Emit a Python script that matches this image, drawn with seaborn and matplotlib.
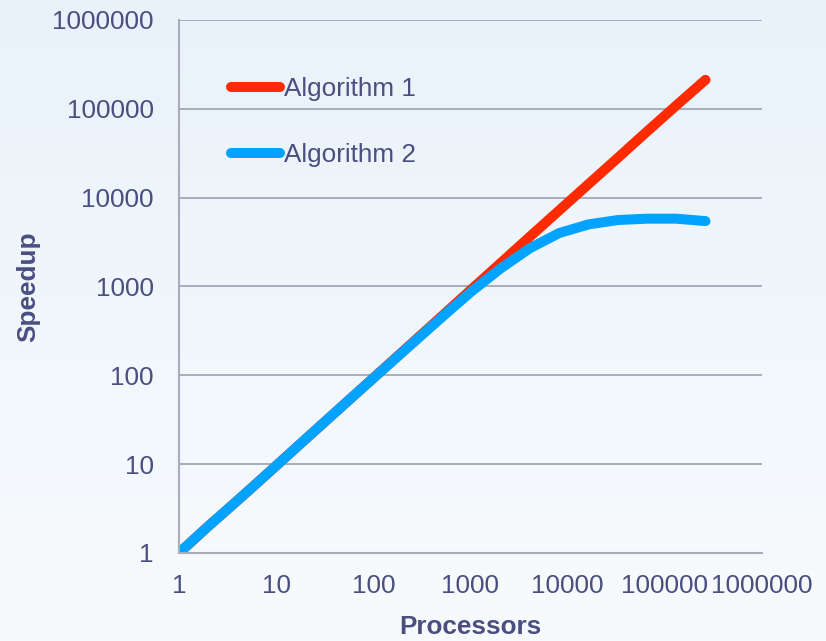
import numpy as np
import pandas as pd
import matplotlib
matplotlib.use("Agg")
import matplotlib.pyplot as plt
import seaborn as sns

# processors (powers of two) and speedups
processors = [1, 2, 4, 8, 16, 32, 64, 128, 256, 512, 1024, 2048, 4096,
              8192, 16384, 32768, 65536, 131072, 262144]
algo1 = [1, 2, 3.9, 7.7, 15.3, 30.3, 60, 119, 236, 468, 930, 1840, 3650,
         7200, 14200, 28000, 55500, 109000, 212000]
algo2 = [1, 2, 3.9, 7.7, 15.3, 30.3, 60, 118, 232, 455, 880, 1600, 2700,
         4000, 5000, 5600, 5800, 5800, 5450]
labels = ["Algorithm 1", "Algorithm 2"]
ticks = [1, 10, 100, 1000, 10000, 100000, 1000000]

df = pd.DataFrame({
    "Processors": processors * 2,
    "Speedup": algo1 + algo2,
    "series": [labels[0]] * len(processors) + [labels[1]] * len(processors),
})

sns.set_style("white")
plt.rcParams["font.family"] = ["Liberation Sans", "DejaVu Sans"]
txt = "#4a4f80"
grey = "#a9acbc"
fs = 18.8

fig = plt.figure(figsize=(8.26, 6.41), dpi=100)

# light blue background gradient
bg = fig.add_axes([0, 0, 1, 1], zorder=-1)
top = np.array([233, 242, 250]) / 255
bot = np.array([248, 251, 253]) / 255
grad = np.linspace(0, 1, 256)[:, None, None]
img = top * (1 - grad) + bot * grad
bg.imshow(np.repeat(img, 2, axis=1), aspect="auto", extent=[0, 1, 0, 1])
bg.axis("off")
fig.patch.set_facecolor(bot)

ax = fig.add_axes([0.2167, 0.1373, 0.7058, 0.8315])
ax.set_facecolor("none")

sns.lineplot(
    data=df, x="Processors", y="Speedup", hue="series",
    palette=["#ff2a00", "#00a3ff"], linewidth=7.2, ax=ax,
    solid_capstyle="round", legend=False,
)

ax.set_xscale("log")
ax.set_yscale("log")
ax.set_xlim(1, 1000000)
ax.set_ylim(1, 1000000)
ax.set_xticks(ticks)
ax.set_yticks(ticks)
ax.set_xticklabels([str(t) for t in ticks])
ax.set_yticklabels([str(t) for t in ticks])
ax.minorticks_off()
ax.tick_params(axis="both", length=0, labelsize=fs, colors=txt)
ax.tick_params(axis="y", pad=18)
ax.tick_params(axis="x", pad=15)

ax.grid(axis="y", color=grey, linewidth=1.4)
ax.set_axisbelow(True)
for s in ["top", "right"]:
    ax.spines[s].set_visible(False)
for s in ["left", "bottom"]:
    ax.spines[s].set_color(grey)
    ax.spines[s].set_linewidth(1.5)

ax.set_xlabel("Processors", fontsize=fs, fontweight="bold", color=txt)
ax.set_ylabel("Speedup", fontsize=fs, fontweight="bold", color=txt)
ax.xaxis.set_label_coords(0.5, -0.139)
ax.xaxis.label.set_va("center")
ax.yaxis.set_label_coords(-0.259, 0.5)
ax.yaxis.label.set_va("center")

ax.legend(ax.lines[:2], labels, loc="upper left", bbox_to_anchor=(0.089, 0.893),
          frameon=False, fontsize=fs, handlelength=1.9, handletextpad=0.12,
          labelspacing=1.62, borderpad=0, borderaxespad=0, labelcolor=txt)

fig.savefig("out.png", dpi=100)
